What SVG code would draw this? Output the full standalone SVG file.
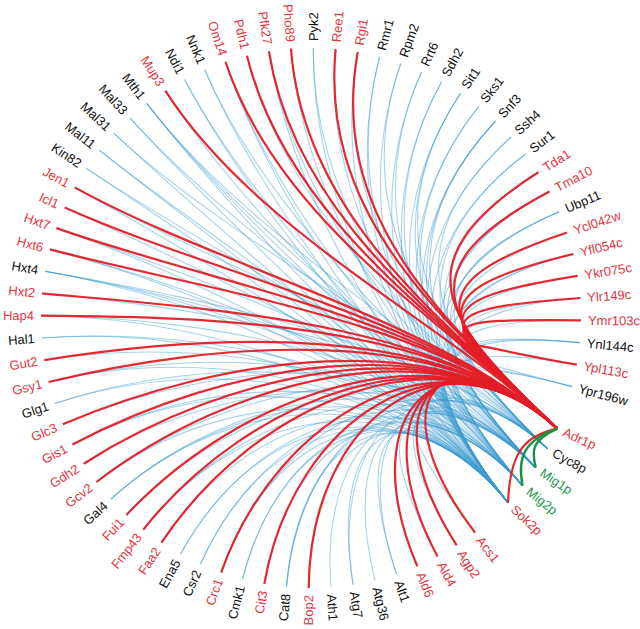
<svg xmlns="http://www.w3.org/2000/svg" width="640" height="629" viewBox="0 0 640 629">
<style>
.l{font-family:"Liberation Sans",Arial,sans-serif;font-size:13px}
.r{fill:#e3363f}.k{fill:#111}.g{fill:#22994a}
.b{fill:none;stroke:#3c9bd0;stroke-opacity:.45;stroke-width:1.1}
.rd{fill:none;stroke:#e41e26;stroke-width:2.2;stroke-opacity:.95}
.gr{fill:none;stroke:#1e9046;stroke-width:2.4}
</style>
<rect width="640" height="629" fill="#fff"/>
<g id="connectors">
<g id="blue-edges">
<path class="b" d="M475,532.5 C371.7,397.4 414,385 508,502.6"/>
<path class="b" d="M456.7,545.3 C365,402.2 432,360 535.7,467.6"/>
<path class="b" d="M437.5,556.5 C357.8,406.4 414,385 508,502.6"/>
<path class="b" d="M417.3,566.2 C350.4,409.9 440,345 547.3,448.6"/>
<path class="b" d="M396.5,574.1 C342.7,412.9 414,385 508,502.6"/>
<path class="b" d="M396.5,574.1 C342.7,412.9 432,360 535.7,467.6"/>
<path class="b" d="M375,580.3 C334.7,415.1 424,372 522.6,485.7"/>
<path class="b" d="M353.1,584.7 C326.6,416.8 414,385 508,502.6"/>
<path class="b" d="M353.1,584.7 C326.6,416.8 440,345 547.3,448.6"/>
<path class="b" d="M331,587.3 C318.4,417.7 432,360 535.7,467.6"/>
<path class="b" d="M308.7,588 C310.1,418 414,385 508,502.6"/>
<path class="b" d="M286.4,586.9 C301.9,417.6 414,385 508,502.6"/>
<path class="b" d="M286.4,586.9 C301.9,417.6 432,360 535.7,467.6"/>
<path class="b" d="M286.4,586.9 C301.9,417.6 440,345 547.3,448.6"/>
<path class="b" d="M264.3,583.9 C293.7,416.5 424,372 522.6,485.7"/>
<path class="b" d="M242.4,579.1 C285.6,414.7 414,385 508,502.6"/>
<path class="b" d="M242.4,579.1 C285.6,414.7 424,372 522.6,485.7"/>
<path class="b" d="M221.1,572.6 C277.7,412.3 414,385 508,502.6"/>
<path class="b" d="M221.1,572.6 C277.7,412.3 440,345 547.3,448.6"/>
<path class="b" d="M200.4,564.3 C270,409.2 432,360 535.7,467.6"/>
<path class="b" d="M200.4,564.3 C270,409.2 414,385 508,502.6"/>
<path class="b" d="M180.4,554.3 C262.6,405.5 414,385 508,502.6"/>
<path class="b" d="M180.4,554.3 C262.6,405.5 424,372 522.6,485.7"/>
<path class="b" d="M161.4,542.7 C255.6,401.2 424,372 522.6,485.7"/>
<path class="b" d="M143.3,529.6 C248.9,396.4 414,385 508,502.6"/>
<path class="b" d="M143.3,529.6 C248.9,396.4 432,360 535.7,467.6"/>
<path class="b" d="M126.4,515 C242.6,391 440,345 547.3,448.6"/>
<path class="b" d="M110.8,499.1 C236.9,385.1 414,385 508,502.6"/>
<path class="b" d="M110.8,499.1 C236.9,385.1 432,360 535.7,467.6"/>
<path class="b" d="M110.8,499.1 C236.9,385.1 424,372 522.6,485.7"/>
<path class="b" d="M96.5,482 C231.6,378.7 414,385 508,502.6"/>
<path class="b" d="M96.5,482 C231.6,378.7 440,345 547.3,448.6"/>
<path class="b" d="M83.7,463.7 C226.8,372 432,360 535.7,467.6"/>
<path class="b" d="M72.5,444.5 C222.7,364.8 414,385 508,502.6"/>
<path class="b" d="M72.5,444.5 C222.7,364.8 424,372 522.6,485.7"/>
<path class="b" d="M62.8,424.3 C219.1,357.4 440,345 547.3,448.6"/>
<path class="b" d="M54.9,403.5 C216.1,349.7 414,385 508,502.6"/>
<path class="b" d="M54.9,403.5 C216.1,349.7 432,360 535.7,467.6"/>
<path class="b" d="M48.7,382 C213.9,341.7 414,385 508,502.6"/>
<path class="b" d="M48.7,382 C213.9,341.7 432,360 535.7,467.6"/>
<path class="b" d="M44.3,360.1 C212.2,333.6 424,372 522.6,485.7"/>
<path class="b" d="M41.7,338 C211.3,325.4 414,385 508,502.6"/>
<path class="b" d="M41.7,338 C211.3,325.4 424,372 522.6,485.7"/>
<path class="b" d="M41,315.7 C211,317.1 432,360 535.7,467.6"/>
<path class="b" d="M41,315.7 C211,317.1 414,385 508,502.6"/>
<path class="b" d="M42.1,293.4 C211.4,308.9 440,345 547.3,448.6"/>
<path class="b" d="M45.1,271.3 C212.5,300.7 414,385 508,502.6"/>
<path class="b" d="M45.1,271.3 C212.5,300.7 432,360 535.7,467.6"/>
<path class="b" d="M45.1,271.3 C212.5,300.7 424,372 522.6,485.7"/>
<path class="b" d="M45.1,271.3 C212.5,300.7 440,345 547.3,448.6"/>
<path class="b" d="M49.9,249.4 C214.3,292.6 414,385 508,502.6"/>
<path class="b" d="M49.9,249.4 C214.3,292.6 424,372 522.6,485.7"/>
<path class="b" d="M56.4,228.1 C216.7,284.7 432,360 535.7,467.6"/>
<path class="b" d="M56.4,228.1 C216.7,284.7 414,385 508,502.6"/>
<path class="b" d="M64.7,207.4 C219.8,277 424,372 522.6,485.7"/>
<path class="b" d="M74.7,187.4 C223.5,269.6 414,385 508,502.6"/>
<path class="b" d="M74.7,187.4 C223.5,269.6 440,345 547.3,448.6"/>
<path class="b" d="M86.3,168.4 C227.8,262.6 432,360 535.7,467.6"/>
<path class="b" d="M86.3,168.4 C227.8,262.6 414,385 508,502.6"/>
<path class="b" d="M99.4,150.3 C232.6,255.9 414,385 508,502.6"/>
<path class="b" d="M99.4,150.3 C232.6,255.9 424,372 522.6,485.7"/>
<path class="b" d="M114,133.4 C238,249.6 414,385 508,502.6"/>
<path class="b" d="M114,133.4 C238,249.6 440,345 547.3,448.6"/>
<path class="b" d="M129.9,117.8 C243.9,243.9 432,360 535.7,467.6"/>
<path class="b" d="M129.9,117.8 C243.9,243.9 414,385 508,502.6"/>
<path class="b" d="M147,103.5 C250.3,238.6 414,385 508,502.6"/>
<path class="b" d="M147,103.5 C250.3,238.6 432,360 535.7,467.6"/>
<path class="b" d="M147,103.5 C250.3,238.6 424,372 522.6,485.7"/>
<path class="b" d="M147,103.5 C250.3,238.6 440,345 547.3,448.6"/>
<path class="b" d="M165.3,90.7 C257,233.8 424,372 522.6,485.7"/>
<path class="b" d="M184.5,79.5 C264.2,229.7 414,385 508,502.6"/>
<path class="b" d="M184.5,79.5 C264.2,229.7 424,372 522.6,485.7"/>
<path class="b" d="M204.7,69.8 C271.6,226.1 432,360 535.7,467.6"/>
<path class="b" d="M204.7,69.8 C271.6,226.1 414,385 508,502.6"/>
<path class="b" d="M225.5,61.9 C279.4,223.1 414,385 508,502.6"/>
<path class="b" d="M225.5,61.9 C279.4,223.1 424,372 522.6,485.7"/>
<path class="b" d="M247,55.7 C287.3,220.9 440,345 547.3,448.6"/>
<path class="b" d="M268.9,51.3 C295.4,219.2 414,385 508,502.6"/>
<path class="b" d="M268.9,51.3 C295.4,219.2 432,360 535.7,467.6"/>
<path class="b" d="M291,48.7 C303.6,218.3 424,372 522.6,485.7"/>
<path class="b" d="M313.3,48 C311.9,218 414,385 508,502.6"/>
<path class="b" d="M313.3,48 C311.9,218 432,360 535.7,467.6"/>
<path class="b" d="M335.6,49.1 C320.1,218.4 432,360 535.7,467.6"/>
<path class="b" d="M357.7,52.1 C328.3,219.5 414,385 508,502.6"/>
<path class="b" d="M357.7,52.1 C328.3,219.5 440,345 547.3,448.6"/>
<path class="b" d="M379.6,56.9 C336.4,221.3 424,372 522.6,485.7"/>
<path class="b" d="M379.6,56.9 C336.4,221.3 414,385 508,502.6"/>
<path class="b" d="M400.9,63.4 C344.3,223.7 414,385 508,502.6"/>
<path class="b" d="M400.9,63.4 C344.3,223.7 440,345 547.3,448.6"/>
<path class="b" d="M421.6,71.7 C352,226.8 414,385 508,502.6"/>
<path class="b" d="M421.6,71.7 C352,226.8 432,360 535.7,467.6"/>
<path class="b" d="M441.6,81.7 C359.4,230.5 424,372 522.6,485.7"/>
<path class="b" d="M441.6,81.7 C359.4,230.5 414,385 508,502.6"/>
<path class="b" d="M460.6,93.3 C366.4,234.8 414,385 508,502.6"/>
<path class="b" d="M460.6,93.3 C366.4,234.8 432,360 535.7,467.6"/>
<path class="b" d="M460.6,93.3 C366.4,234.8 440,345 547.3,448.6"/>
<path class="b" d="M478.7,106.4 C373.1,239.6 414,385 508,502.6"/>
<path class="b" d="M478.7,106.4 C373.1,239.6 424,372 522.6,485.7"/>
<path class="b" d="M495.6,121 C379.4,245 414,385 508,502.6"/>
<path class="b" d="M495.6,121 C379.4,245 432,360 535.7,467.6"/>
<path class="b" d="M495.6,121 C379.4,245 424,372 522.6,485.7"/>
<path class="b" d="M511.2,136.9 C385.2,250.9 440,345 547.3,448.6"/>
<path class="b" d="M511.2,136.9 C385.2,250.9 414,385 508,502.6"/>
<path class="b" d="M525.5,154 C390.4,257.3 414,385 508,502.6"/>
<path class="b" d="M525.5,154 C390.4,257.3 432,360 535.7,467.6"/>
<path class="b" d="M538.3,172.3 C395.2,264 432,360 535.7,467.6"/>
<path class="b" d="M549.5,191.5 C399.4,271.2 414,385 508,502.6"/>
<path class="b" d="M549.5,191.5 C399.4,271.2 432,360 535.7,467.6"/>
<path class="b" d="M559.2,211.7 C402.9,278.6 414,385 508,502.6"/>
<path class="b" d="M559.2,211.7 C402.9,278.6 432,360 535.7,467.6"/>
<path class="b" d="M559.2,211.7 C402.9,278.6 440,345 547.3,448.6"/>
<path class="b" d="M567.1,232.5 C405.9,286.4 424,372 522.6,485.7"/>
<path class="b" d="M573.3,254 C408.1,294.3 414,385 508,502.6"/>
<path class="b" d="M573.3,254 C408.1,294.3 424,372 522.6,485.7"/>
<path class="b" d="M577.7,275.9 C409.8,302.4 440,345 547.3,448.6"/>
<path class="b" d="M580.3,298 C410.7,310.6 414,385 508,502.6"/>
<path class="b" d="M580.3,298 C410.7,310.6 440,345 547.3,448.6"/>
<path class="b" d="M581,320.3 C411,318.9 432,360 535.7,467.6"/>
<path class="b" d="M579.9,342.6 C410.6,327.1 414,385 508,502.6"/>
<path class="b" d="M579.9,342.6 C410.6,327.1 432,360 535.7,467.6"/>
<path class="b" d="M579.9,342.6 C410.6,327.1 424,372 522.6,485.7"/>
<path class="b" d="M576.9,364.7 C409.5,335.3 414,385 508,502.6"/>
<path class="b" d="M572.1,386.6 C407.7,343.4 414,385 508,502.6"/>
<path class="b" d="M572.1,386.6 C407.7,343.4 424,372 522.6,485.7"/>
<path class="b" d="M572.1,386.6 C407.7,343.4 440,345 547.3,448.6"/>
</g>
<g id="red-edges">
<path class="rd" d="M475,532.5 C371.7,397.4 445,322 557.3,428.6"/>
<path class="rd" d="M456.7,545.3 C365,402.2 445,322 557.3,428.6"/>
<path class="rd" d="M437.5,556.5 C357.8,406.4 445,322 557.3,428.6"/>
<path class="rd" d="M417.3,566.2 C350.4,409.9 445,322 557.3,428.6"/>
<path class="rd" d="M308.7,588 C310.1,418 445,322 557.3,428.6"/>
<path class="rd" d="M264.3,583.9 C293.7,416.5 445,322 557.3,428.6"/>
<path class="rd" d="M221.1,572.6 C277.7,412.3 445,322 557.3,428.6"/>
<path class="rd" d="M161.4,542.7 C255.6,401.2 445,322 557.3,428.6"/>
<path class="rd" d="M143.3,529.6 C248.9,396.4 445,322 557.3,428.6"/>
<path class="rd" d="M126.4,515 C242.6,391 445,322 557.3,428.6"/>
<path class="rd" d="M96.5,482 C231.6,378.7 445,322 557.3,428.6"/>
<path class="rd" d="M83.7,463.7 C226.8,372 445,322 557.3,428.6"/>
<path class="rd" d="M72.5,444.5 C222.7,364.8 445,322 557.3,428.6"/>
<path class="rd" d="M62.8,424.3 C219.1,357.4 445,322 557.3,428.6"/>
<path class="rd" d="M48.7,382 C213.9,341.7 445,322 557.3,428.6"/>
<path class="rd" d="M44.3,360.1 C212.2,333.6 445,322 557.3,428.6"/>
<path class="rd" d="M41,315.7 C211,317.1 445,322 557.3,428.6"/>
<path class="rd" d="M42.1,293.4 C211.4,308.9 445,322 557.3,428.6"/>
<path class="rd" d="M49.9,249.4 C214.3,292.6 445,322 557.3,428.6"/>
<path class="rd" d="M56.4,228.1 C216.7,284.7 445,322 557.3,428.6"/>
<path class="rd" d="M64.7,207.4 C219.8,277 445,322 557.3,428.6"/>
<path class="rd" d="M74.7,187.4 C223.5,269.6 445,322 557.3,428.6"/>
<path class="rd" d="M165.3,90.7 C257,233.8 445,322 557.3,428.6"/>
<path class="rd" d="M225.5,61.9 C279.4,223.1 445,322 557.3,428.6"/>
<path class="rd" d="M247,55.7 C287.3,220.9 445,322 557.3,428.6"/>
<path class="rd" d="M268.9,51.3 C295.4,219.2 445,322 557.3,428.6"/>
<path class="rd" d="M291,48.7 C303.6,218.3 445,322 557.3,428.6"/>
<path class="rd" d="M335.6,49.1 C320.1,218.4 445,322 557.3,428.6"/>
<path class="rd" d="M357.7,52.1 C328.3,219.5 445,322 557.3,428.6"/>
<path class="rd" d="M538.3,172.3 C395.2,264 445,322 557.3,428.6"/>
<path class="rd" d="M549.5,191.5 C399.4,271.2 445,322 557.3,428.6"/>
<path class="rd" d="M567.1,232.5 C405.9,286.4 445,322 557.3,428.6"/>
<path class="rd" d="M573.3,254 C408.1,294.3 445,322 557.3,428.6"/>
<path class="rd" d="M577.7,275.9 C409.8,302.4 445,322 557.3,428.6"/>
<path class="rd" d="M580.3,298 C410.7,310.6 445,322 557.3,428.6"/>
<path class="rd" d="M581,320.3 C411,318.9 445,322 557.3,428.6"/>
<path class="rd" d="M576.9,364.7 C409.5,335.3 445,322 557.3,428.6"/>
<path class="rd" d="M508,502.6 C510,455 522,436 557.3,428.6"/>
</g>
<g id="green-edges">
<path class="gr" d="M535.7,467.6 C532,452 530,441 557.3,428.6"/>
<path class="gr" d="M522.6,485.7 C517,458 524,440 557.3,428.6"/>
</g>
</g>
<g id="nodes">
<g id="n-Acs1"><text class="l r" dy=".35em" transform="translate(311 318) rotate(52.6) translate(277 0)">Acs1</text></g>
<g id="n-Agp2"><text class="l r" dy=".35em" transform="translate(311 318) rotate(57.34) translate(277 0)">Agp2</text></g>
<g id="n-Ald4"><text class="l r" dy=".35em" transform="translate(311 318) rotate(62.07) translate(277 0)">Ald4</text></g>
<g id="n-Ald6"><text class="l r" dy=".35em" transform="translate(311 318) rotate(66.81) translate(277 0)">Ald6</text></g>
<g id="n-Alt1"><text class="l k" dy=".35em" transform="translate(311 318) rotate(71.55) translate(277 0)">Alt1</text></g>
<g id="n-Atg36"><text class="l k" dy=".35em" transform="translate(311 318) rotate(76.28) translate(277 0)">Atg36</text></g>
<g id="n-Atg7"><text class="l k" dy=".35em" transform="translate(311 318) rotate(81.02) translate(277 0)">Atg7</text></g>
<g id="n-Ath1"><text class="l k" dy=".35em" transform="translate(311 318) rotate(85.76) translate(277 0)">Ath1</text></g>
<g id="n-Bop2"><text class="l r" dy=".35em" text-anchor="end" transform="translate(311 318) rotate(90.49) translate(277 0) rotate(180)">Bop2</text></g>
<g id="n-Cat8"><text class="l k" dy=".35em" text-anchor="end" transform="translate(311 318) rotate(95.23) translate(277 0) rotate(180)">Cat8</text></g>
<g id="n-Cit3"><text class="l r" dy=".35em" text-anchor="end" transform="translate(311 318) rotate(99.97) translate(277 0) rotate(180)">Cit3</text></g>
<g id="n-Cmk1"><text class="l k" dy=".35em" text-anchor="end" transform="translate(311 318) rotate(104.71) translate(277 0) rotate(180)">Cmk1</text></g>
<g id="n-Crc1"><text class="l r" dy=".35em" text-anchor="end" transform="translate(311 318) rotate(109.44) translate(277 0) rotate(180)">Crc1</text></g>
<g id="n-Csr2"><text class="l k" dy=".35em" text-anchor="end" transform="translate(311 318) rotate(114.18) translate(277 0) rotate(180)">Csr2</text></g>
<g id="n-Ena5"><text class="l k" dy=".35em" text-anchor="end" transform="translate(311 318) rotate(118.92) translate(277 0) rotate(180)">Ena5</text></g>
<g id="n-Faa2"><text class="l r" dy=".35em" text-anchor="end" transform="translate(311 318) rotate(123.65) translate(277 0) rotate(180)">Faa2</text></g>
<g id="n-Fmp43"><text class="l r" dy=".35em" text-anchor="end" transform="translate(311 318) rotate(128.39) translate(277 0) rotate(180)">Fmp43</text></g>
<g id="n-Fui1"><text class="l r" dy=".35em" text-anchor="end" transform="translate(311 318) rotate(133.13) translate(277 0) rotate(180)">Fui1</text></g>
<g id="n-Gal4"><text class="l k" dy=".35em" text-anchor="end" transform="translate(311 318) rotate(137.86) translate(277 0) rotate(180)">Gal4</text></g>
<g id="n-Gcv2"><text class="l r" dy=".35em" text-anchor="end" transform="translate(311 318) rotate(142.6) translate(277 0) rotate(180)">Gcv2</text></g>
<g id="n-Gdh2"><text class="l r" dy=".35em" text-anchor="end" transform="translate(311 318) rotate(147.34) translate(277 0) rotate(180)">Gdh2</text></g>
<g id="n-Gis1"><text class="l r" dy=".35em" text-anchor="end" transform="translate(311 318) rotate(152.07) translate(277 0) rotate(180)">Gis1</text></g>
<g id="n-Glc3"><text class="l r" dy=".35em" text-anchor="end" transform="translate(311 318) rotate(156.81) translate(277 0) rotate(180)">Glc3</text></g>
<g id="n-Glg1"><text class="l k" dy=".35em" text-anchor="end" transform="translate(311 318) rotate(161.55) translate(277 0) rotate(180)">Glg1</text></g>
<g id="n-Gsy1"><text class="l r" dy=".35em" text-anchor="end" transform="translate(311 318) rotate(166.28) translate(277 0) rotate(180)">Gsy1</text></g>
<g id="n-Gut2"><text class="l r" dy=".35em" text-anchor="end" transform="translate(311 318) rotate(171.02) translate(277 0) rotate(180)">Gut2</text></g>
<g id="n-Hal1"><text class="l k" dy=".35em" text-anchor="end" transform="translate(311 318) rotate(175.76) translate(277 0) rotate(180)">Hal1</text></g>
<g id="n-Hap4"><text class="l r" dy=".35em" text-anchor="end" transform="translate(311 318) rotate(180.49) translate(277 0) rotate(180)">Hap4</text></g>
<g id="n-Hxt2"><text class="l r" dy=".35em" text-anchor="end" transform="translate(311 318) rotate(185.23) translate(277 0) rotate(180)">Hxt2</text></g>
<g id="n-Hxt4"><text class="l k" dy=".35em" text-anchor="end" transform="translate(311 318) rotate(189.97) translate(277 0) rotate(180)">Hxt4</text></g>
<g id="n-Hxt6"><text class="l r" dy=".35em" text-anchor="end" transform="translate(311 318) rotate(194.71) translate(277 0) rotate(180)">Hxt6</text></g>
<g id="n-Hxt7"><text class="l r" dy=".35em" text-anchor="end" transform="translate(311 318) rotate(199.44) translate(277 0) rotate(180)">Hxt7</text></g>
<g id="n-Icl1"><text class="l r" dy=".35em" text-anchor="end" transform="translate(311 318) rotate(204.18) translate(277 0) rotate(180)">Icl1</text></g>
<g id="n-Jen1"><text class="l r" dy=".35em" text-anchor="end" transform="translate(311 318) rotate(208.92) translate(277 0) rotate(180)">Jen1</text></g>
<g id="n-Kin82"><text class="l k" dy=".35em" text-anchor="end" transform="translate(311 318) rotate(213.65) translate(277 0) rotate(180)">Kin82</text></g>
<g id="n-Mal11"><text class="l k" dy=".35em" text-anchor="end" transform="translate(311 318) rotate(218.39) translate(277 0) rotate(180)">Mal11</text></g>
<g id="n-Mal31"><text class="l k" dy=".35em" text-anchor="end" transform="translate(311 318) rotate(223.13) translate(277 0) rotate(180)">Mal31</text></g>
<g id="n-Mal33"><text class="l k" dy=".35em" text-anchor="end" transform="translate(311 318) rotate(227.86) translate(277 0) rotate(180)">Mal33</text></g>
<g id="n-Mth1"><text class="l k" dy=".35em" text-anchor="end" transform="translate(311 318) rotate(232.6) translate(277 0) rotate(180)">Mth1</text></g>
<g id="n-Mup3"><text class="l r" dy=".35em" text-anchor="end" transform="translate(311 318) rotate(237.34) translate(277 0) rotate(180)">Mup3</text></g>
<g id="n-Ndi1"><text class="l k" dy=".35em" text-anchor="end" transform="translate(311 318) rotate(242.07) translate(277 0) rotate(180)">Ndi1</text></g>
<g id="n-Nnk1"><text class="l k" dy=".35em" text-anchor="end" transform="translate(311 318) rotate(246.81) translate(277 0) rotate(180)">Nnk1</text></g>
<g id="n-Om14"><text class="l r" dy=".35em" text-anchor="end" transform="translate(311 318) rotate(251.55) translate(277 0) rotate(180)">Om14</text></g>
<g id="n-Pdh1"><text class="l r" dy=".35em" text-anchor="end" transform="translate(311 318) rotate(256.28) translate(277 0) rotate(180)">Pdh1</text></g>
<g id="n-Pfk27"><text class="l r" dy=".35em" text-anchor="end" transform="translate(311 318) rotate(261.02) translate(277 0) rotate(180)">Pfk27</text></g>
<g id="n-Pho89"><text class="l r" dy=".35em" text-anchor="end" transform="translate(311 318) rotate(265.76) translate(277 0) rotate(180)">Pho89</text></g>
<g id="n-Pyk2"><text class="l k" dy=".35em" transform="translate(311 318) rotate(270.49) translate(277 0)">Pyk2</text></g>
<g id="n-Ree1"><text class="l r" dy=".35em" transform="translate(311 318) rotate(275.23) translate(277 0)">Ree1</text></g>
<g id="n-Rgi1"><text class="l r" dy=".35em" transform="translate(311 318) rotate(279.97) translate(277 0)">Rgi1</text></g>
<g id="n-Rmr1"><text class="l k" dy=".35em" transform="translate(311 318) rotate(284.71) translate(277 0)">Rmr1</text></g>
<g id="n-Rpm2"><text class="l k" dy=".35em" transform="translate(311 318) rotate(289.44) translate(277 0)">Rpm2</text></g>
<g id="n-Rrt6"><text class="l k" dy=".35em" transform="translate(311 318) rotate(294.18) translate(277 0)">Rrt6</text></g>
<g id="n-Sdh2"><text class="l k" dy=".35em" transform="translate(311 318) rotate(298.92) translate(277 0)">Sdh2</text></g>
<g id="n-Sit1"><text class="l k" dy=".35em" transform="translate(311 318) rotate(303.65) translate(277 0)">Sit1</text></g>
<g id="n-Sks1"><text class="l k" dy=".35em" transform="translate(311 318) rotate(308.39) translate(277 0)">Sks1</text></g>
<g id="n-Snf3"><text class="l k" dy=".35em" transform="translate(311 318) rotate(313.13) translate(277 0)">Snf3</text></g>
<g id="n-Ssh4"><text class="l k" dy=".35em" transform="translate(311 318) rotate(317.86) translate(277 0)">Ssh4</text></g>
<g id="n-Sur1"><text class="l k" dy=".35em" transform="translate(311 318) rotate(322.6) translate(277 0)">Sur1</text></g>
<g id="n-Tda1"><text class="l r" dy=".35em" transform="translate(311 318) rotate(327.34) translate(277 0)">Tda1</text></g>
<g id="n-Tma10"><text class="l r" dy=".35em" transform="translate(311 318) rotate(332.07) translate(277 0)">Tma10</text></g>
<g id="n-Ubp11"><text class="l k" dy=".35em" transform="translate(311 318) rotate(336.81) translate(277 0)">Ubp11</text></g>
<g id="n-Ycl042w"><text class="l r" dy=".35em" transform="translate(311 318) rotate(341.55) translate(277 0)">Ycl042w</text></g>
<g id="n-Yfl054c"><text class="l r" dy=".35em" transform="translate(311 318) rotate(346.28) translate(277 0)">Yfl054c</text></g>
<g id="n-Ykr075c"><text class="l r" dy=".35em" transform="translate(311 318) rotate(351.02) translate(277 0)">Ykr075c</text></g>
<g id="n-Ylr149c"><text class="l r" dy=".35em" transform="translate(311 318) rotate(355.76) translate(277 0)">Ylr149c</text></g>
<g id="n-Ymr103c"><text class="l r" dy=".35em" transform="translate(311 318) rotate(0.49) translate(277 0)">Ymr103c</text></g>
<g id="n-Ynl144c"><text class="l k" dy=".35em" transform="translate(311 318) rotate(5.23) translate(277 0)">Ynl144c</text></g>
<g id="n-Ypl113c"><text class="l r" dy=".35em" transform="translate(311 318) rotate(9.97) translate(277 0)">Ypl113c</text></g>
<g id="n-Ypr196w"><text class="l k" dy=".35em" transform="translate(311 318) rotate(14.71) translate(277 0)">Ypr196w</text></g>
<g id="n-Adr1p"><text class="l r" dy=".35em" transform="translate(311 318) rotate(24.18) translate(277 0)">Adr1p</text></g>
<g id="n-Cyc8p"><text class="l k" dy=".35em" transform="translate(311 318) rotate(28.92) translate(277 0)">Cyc8p</text></g>
<g id="n-Mig1p"><text class="l g" dy=".35em" transform="translate(311 318) rotate(33.65) translate(277 0)">Mig1p</text></g>
<g id="n-Mig2p"><text class="l g" dy=".35em" transform="translate(311 318) rotate(38.39) translate(277 0)">Mig2p</text></g>
<g id="n-Sok2p"><text class="l r" dy=".35em" transform="translate(311 318) rotate(43.13) translate(277 0)">Sok2p</text></g>
</g>
</svg>
